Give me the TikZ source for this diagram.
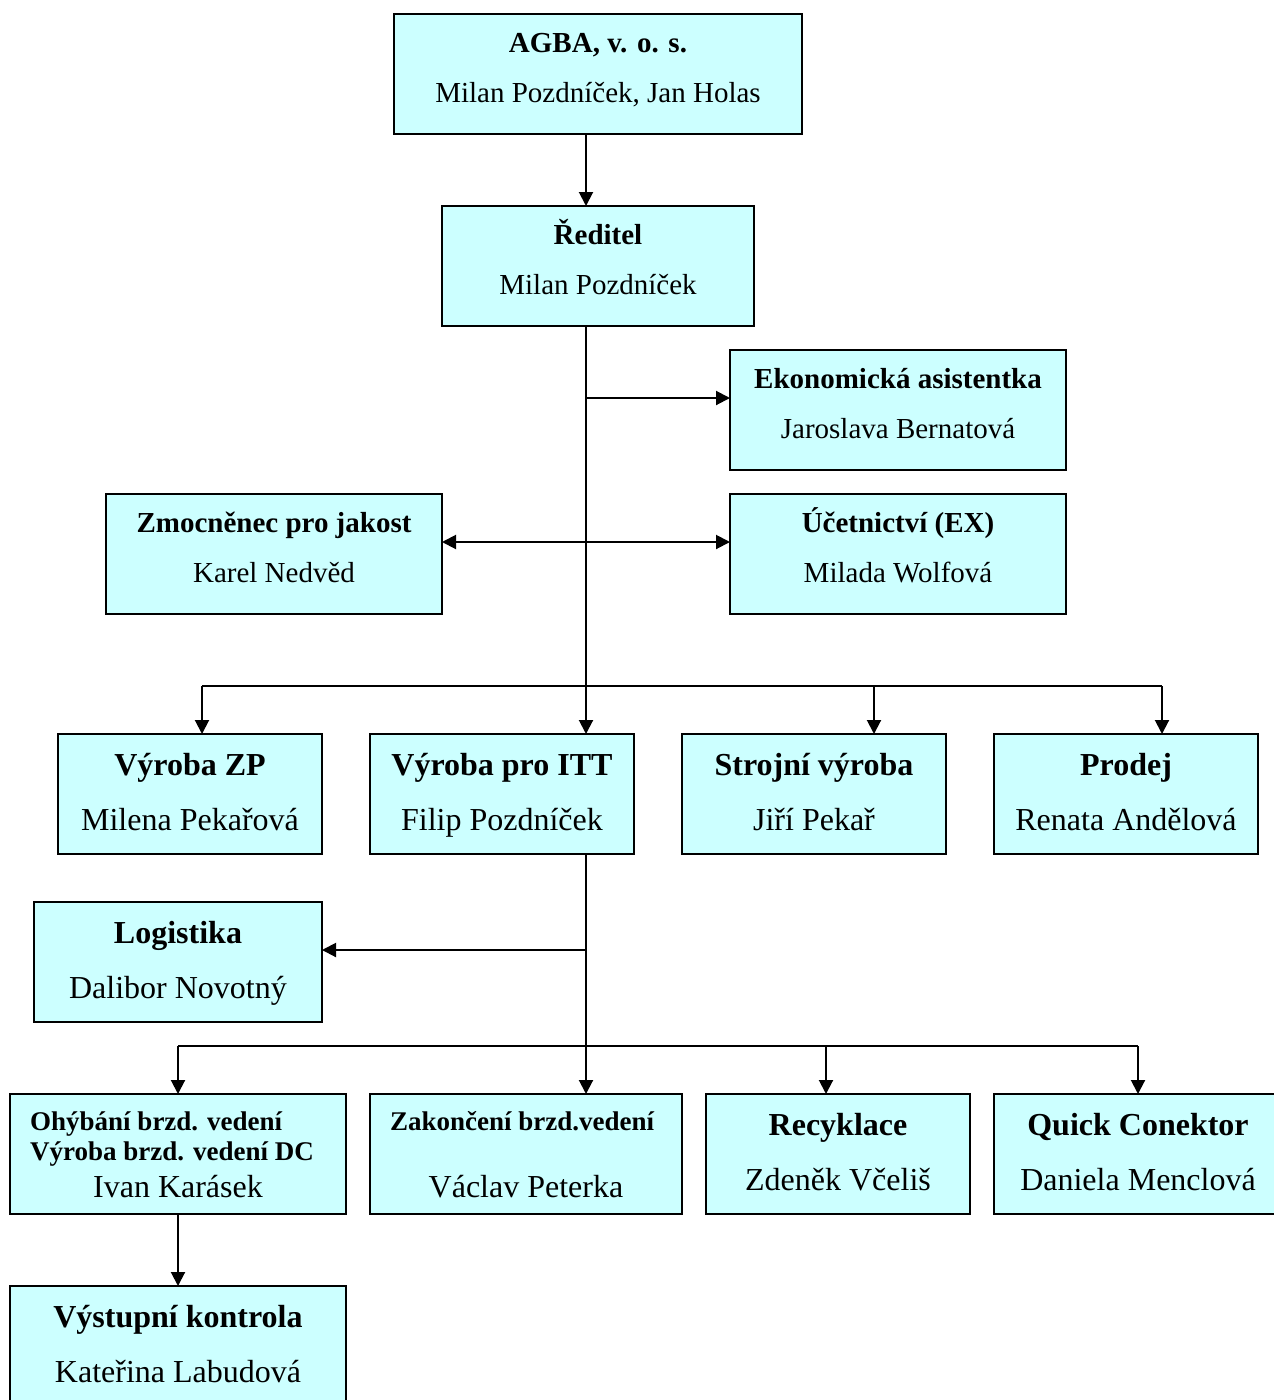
\documentclass[tikz,border=0pt]{standalone}
\usepackage{fontspec}
\setmainfont{Liberation Serif}
\usepackage{xcolor}
\definecolor{orgfill}{HTML}{CCFFFF}
\usetikzlibrary{arrows.meta,positioning}
\tikzset{
  orgbox/.style={draw,line width=2pt,fill=orgfill,inner sep=0pt,outer sep=0pt,anchor=north west,minimum height=120pt},
  toptitle/.style={font=\fontsize{29}{34}\selectfont\bfseries,inner sep=0pt,anchor=base},
  topname/.style={font=\fontsize{29}{34}\selectfont,inner sep=0pt,anchor=base},
  rowtitle/.style={font=\fontsize{32}{38}\selectfont\bfseries,inner sep=0pt,anchor=base},
  rowname/.style={font=\fontsize{32}{38}\selectfont,inner sep=0pt,anchor=base},
  smalltitle/.style={font=\fontsize{27}{32}\selectfont\bfseries,inner sep=0pt,anchor=base west},
  orgline/.style={line width=2pt},
  orgflow/.style={-{Triangle[length=14pt,width=14pt]},line width=2pt},
}

\begin{document}
\begin{tikzpicture}[x=1pt,y=-1pt]
\useasboundingbox (0,0) rectangle (1274,1400);

% top part
\node[orgbox,minimum width=408pt] (agba) at (394,14) {};
\node[toptitle] (agba-t) at ([yshift=-38pt]agba.north) {AGBA, v. o. s.};
\node[topname] (agba-n) at ([yshift=-88pt]agba.north) {Milan Pozdníček, Jan Holas};

\node[orgbox,minimum width=312pt] (red) at (442,206) {};
\node[toptitle] (red-t) at ([yshift=-38pt]red.north) {Ředitel};
\node[topname] (red-n) at ([yshift=-88pt]red.north) {Milan Pozdníček};

\node[orgbox,minimum width=336pt] (ekon) at (730,350) {};
\node[toptitle] (ekon-t) at ([yshift=-38pt]ekon.north) {Ekonomická asistentka};
\node[topname] (ekon-n) at ([yshift=-88pt]ekon.north) {Jaroslava Bernatová};

\node[orgbox,minimum width=336pt] (zmoc) at (106,494) {};
\node[toptitle] (zmoc-t) at ([yshift=-38pt]zmoc.north) {Zmocněnec pro jakost};
\node[topname] (zmoc-n) at ([yshift=-88pt]zmoc.north) {Karel Nedvěd};

\node[orgbox,minimum width=336pt] (ucet) at (730,494) {};
\node[toptitle] (ucet-t) at ([yshift=-38pt]ucet.north) {Účetnictví (EX)};
\node[topname] (ucet-n) at ([yshift=-88pt]ucet.north) {Milada Wolfová};

% production row
\node[orgbox,minimum width=264pt] (vzp) at (58,734) {};
\node[rowtitle] (vzp-t) at ([yshift=-41pt]vzp.north) {Výroba ZP};
\node[rowname] (vzp-n) at ([yshift=-96pt]vzp.north) {Milena Pekařová};

\node[orgbox,minimum width=264pt] (itt) at (370,734) {};
\node[rowtitle] (itt-t) at ([yshift=-41pt]itt.north) {Výroba pro ITT};
\node[rowname] (itt-n) at ([yshift=-96pt]itt.north) {Filip Pozdníček};

\node[orgbox,minimum width=264pt] (stroj) at (682,734) {};
\node[rowtitle] (stroj-t) at ([yshift=-41pt]stroj.north) {Strojní výroba};
\node[rowname] (stroj-n) at ([yshift=-96pt]stroj.north) {Jiří Pekař};

\node[orgbox,minimum width=264pt] (prodej) at (994,734) {};
\node[rowtitle] (prodej-t) at ([yshift=-41pt]prodej.north) {Prodej};
\node[rowname] (prodej-n) at ([yshift=-96pt]prodej.north) {Renata Andělová};

\node[orgbox,minimum width=288pt] (logk) at (34,902) {};
\node[rowtitle] (logk-t) at ([yshift=-41pt]logk.north) {Logistika};
\node[rowname] (logk-n) at ([yshift=-96pt]logk.north) {Dalibor Novotný};

% ITT departments
\node[orgbox,minimum width=336pt] (ohyb) at (10,1094) {};
\node[smalltitle] (ohyb-t1) at (30,1130) {Ohýbání brzd. vedení};
\node[smalltitle] (ohyb-t2) at (30,1160) {Výroba brzd. vedení DC};
\node[rowname] (ohyb-n) at ([yshift=-103pt]ohyb.north) {Ivan Karásek};

\node[orgbox,minimum width=312pt] (zakon) at (370,1094) {};
\node[smalltitle] (zakon-t) at (390,1130) {Zakončení brzd.vedení};
\node[rowname] (zakon-n) at ([yshift=-103pt]zakon.north) {Václav Peterka};

\node[orgbox,minimum width=264pt] (recy) at (706,1094) {};
\node[rowtitle] (recy-t) at ([yshift=-41pt]recy.north) {Recyklace};
\node[rowname] (recy-n) at ([yshift=-96pt]recy.north) {Zdeněk Včeliš};

\node[orgbox,minimum width=288pt] (quick) at (994,1094) {};
\node[rowtitle] (quick-t) at ([yshift=-41pt]quick.north) {Quick Conektor};
\node[rowname] (quick-n) at ([yshift=-96pt]quick.north) {Daniela Menclová};

\node[orgbox,minimum width=336pt] (vystup) at (10,1286) {};
\node[rowtitle] (vystup-t) at ([yshift=-41pt]vystup.north) {Výstupní kontrola};
\node[rowname] (vystup-n) at ([yshift=-96pt]vystup.north) {Kateřina Labudová};

% connectors
\coordinate (trunk) at (586,0);
\coordinate (bus1l) at (202,686);
\coordinate (bus1s) at (874,686);
\coordinate (bus1r) at (1162,686);
\coordinate (bus2l) at (178,1046);
\coordinate (bus2c) at (826,1046);
\coordinate (bus2r) at (1138,1046);

\draw[orgflow] (agba.south -| trunk) -- (red.north -| trunk);
\draw[orgflow] (red.south -| trunk) -- (itt.north -| trunk);
\draw[orgflow] (trunk |- ekon.west) ++(0,-12) -- ([yshift=12pt]ekon.west);
\draw[{Triangle[length=14pt,width=14pt]}-{Triangle[length=14pt,width=14pt]},line width=2pt] ([yshift=12pt]zmoc.east) -- ([yshift=12pt]ucet.west);
\draw[orgline] (bus1l) -- (bus1r);
\draw[orgflow] (bus1l) -- (bus1l |- vzp.north);
\draw[orgflow] (bus1s) -- (bus1s |- stroj.north);
\draw[orgflow] (bus1r) -- (bus1r |- prodej.north);

\draw[orgflow] (itt.south -| trunk) -- (zakon.north -| trunk);
\draw[orgflow] (trunk |- logk.east) ++(0,-12) -- ([yshift=12pt]logk.east);
\draw[orgline] (bus2l) -- (bus2r);
\draw[orgflow] (bus2l) -- (bus2l |- ohyb.north);
\draw[orgflow] (bus2c) -- (bus2c |- recy.north);
\draw[orgflow] (bus2r) -- (bus2r |- quick.north);
\draw[orgflow] (ohyb.south) -- (vystup.north);
\end{tikzpicture}
\end{document}
